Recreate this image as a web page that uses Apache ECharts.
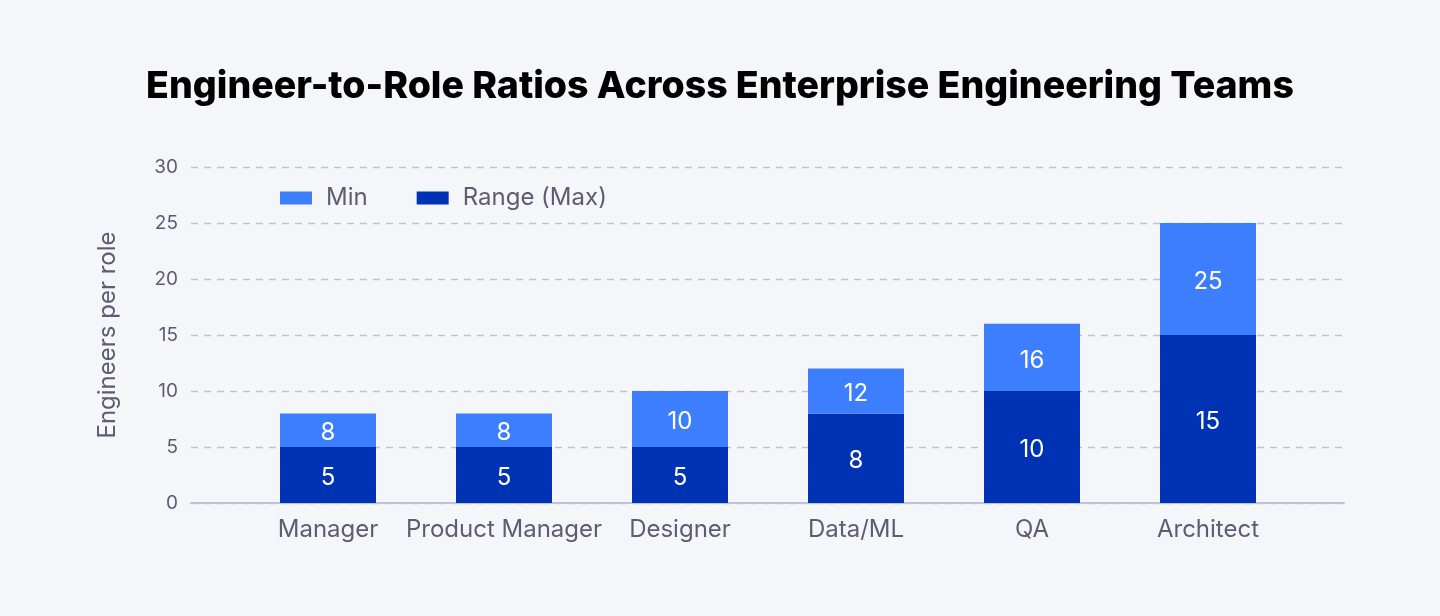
<!DOCTYPE html>
<html>
<head>
<meta charset="utf-8">
<script src="https://cdn.jsdelivr.net/npm/echarts@6/dist/echarts.min.js"></script>
<style>
html,body{margin:0;padding:0;background:#F5F6FA;}
#chart{width:1440px;height:616px;}
</style>
</head>
<body>
<div id="chart"></div>
<script>
const categories = ['Manager', 'Product Manager', 'Designer', 'Data/ML', 'QA', 'Architect'];
const lowValues = [5, 5, 5, 8, 10, 15];
const highValues = [8, 8, 10, 12, 16, 25];
const yTicks = [0, 5, 10, 15, 20, 25, 30];

const chart = echarts.init(document.getElementById('chart'));
const textColor = '#5B5E72';
const yMin = yTicks[0];
const yMax = yTicks[yTicks.length - 1];
const upperSegment = highValues.map((v, i) => v - lowValues[i]);

chart.setOption({
  backgroundColor: '#F5F6FA',
  animation: false,
  title: {
    text: 'Engineer-to-Role Ratios Across Enterprise Engineering Teams',
    left: 'center',
    top: 63,
    textStyle: { fontFamily: 'Inter', fontWeight: 800, fontSize: 37.5, color: '#000' }
  },
  legend: {
    data: ['Min', 'Range (Max)'],
    left: 280,
    top: 186,
    padding: 0,
    itemWidth: 32,
    itemHeight: 13,
    itemGap: 49,
    icon: 'rect',
    textStyle: { fontFamily: 'Inter', fontSize: 24, color: textColor, padding: [0, 0, 0, 9] }
  },
  grid: [
    { left: 191, right: 96, top: 167, bottom: 113, containLabel: false },
    { left: 240, right: 144, top: 167, bottom: 113, containLabel: false }
  ],
  xAxis: [
    {
      gridIndex: 0,
      type: 'value',
      min: 0,
      max: 1,
      splitLine: { show: false },
      axisTick: { show: false },
      axisLabel: { show: false },
      axisLine: { show: true, lineStyle: { color: '#BFC3D3', width: 2 } }
    },
    {
      gridIndex: 1,
      type: 'category',
      data: categories,
      axisLine: { show: false },
      axisTick: { show: false },
      axisLabel: { fontFamily: 'Inter', fontSize: 24, color: textColor, margin: 15, interval: 0 }
    }
  ],
  yAxis: [
    {
      gridIndex: 0,
      type: 'value',
      min: yMin,
      max: yMax,
      interval: 5,
      name: 'Engineers per role',
      nameLocation: 'middle',
      nameGap: 71,
      nameTextStyle: { fontFamily: 'Inter', fontSize: 24, color: textColor },
      axisLine: { show: false },
      axisTick: { show: false },
      axisLabel: { fontFamily: 'Inter', fontSize: 19, color: textColor, margin: 13 },
      splitLine: { lineStyle: { color: '#BFC3D0', type: [7, 6], width: 1.3 } }
    },
    {
      gridIndex: 1,
      type: 'value',
      min: yMin,
      max: yMax,
      interval: 5,
      show: false,
      splitLine: { show: false }
    }
  ],
  series: [
    {
      name: 'Range (Max)',
      type: 'bar',
      stack: 'total',
      xAxisIndex: 1,
      yAxisIndex: 1,
      barWidth: 96,
      data: lowValues,
      itemStyle: { color: '#0032B4' },
      label: {
        show: true, position: 'inside', offset: [0, 3], color: '#fff', fontFamily: 'Inter', fontSize: 24,
        formatter: p => String(lowValues[p.dataIndex])
      }
    },
    {
      name: 'Min',
      type: 'bar',
      stack: 'total',
      xAxisIndex: 1,
      yAxisIndex: 1,
      barWidth: 96,
      data: upperSegment,
      itemStyle: { color: '#3D7EFF' },
      label: {
        show: true, position: 'inside', offset: [0, 3], color: '#fff', fontFamily: 'Inter', fontSize: 24,
        formatter: p => String(highValues[p.dataIndex])
      }
    }
  ]
});
</script>
</body>
</html>
